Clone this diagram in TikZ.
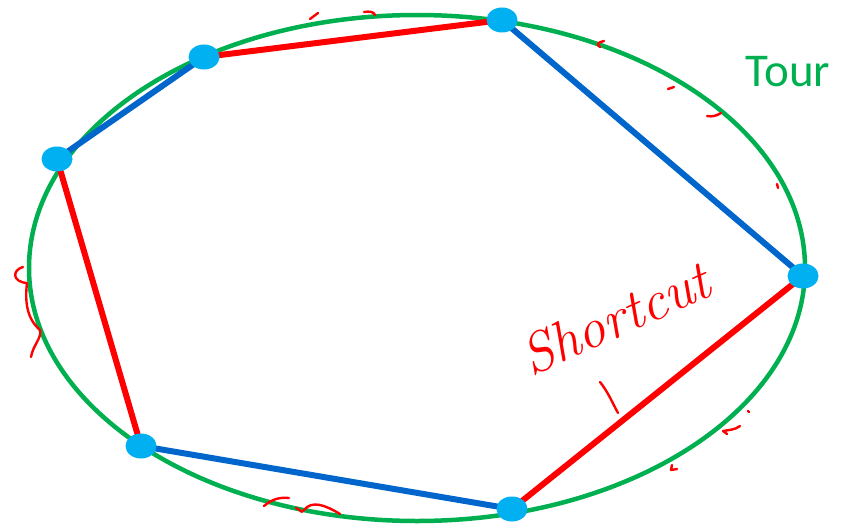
\documentclass[tikz,border=0pt]{standalone}
\usepackage{fontspec}
\newfontfamily\calib{Carlito}
\usetikzlibrary{shapes.geometric,backgrounds}
\definecolor{tourgreen}{RGB}{0,176,80}
\definecolor{edgeblue}{RGB}{0,102,204}
\definecolor{edgered}{RGB}{255,0,0}
\definecolor{vcyan}{RGB}{0,176,240}
\tikzset{
  vert/.style={ellipse, fill=vcyan, minimum width=31pt, minimum height=25pt, inner sep=0pt},
  blueedge/.style={draw=edgeblue, line width=6pt},
  rededge/.style={draw=edgered, line width=6pt},
  scrib/.style={draw=edgered, line width=2.4pt, line cap=round, line join=round},
}
\begin{document}
\begin{tikzpicture}[x=1pt,y=-1pt]
\useasboundingbox (0,0) rectangle (842,527);
\node[vert] (a) at (204,57) {};
\node[vert] (b) at (502,20) {};
\node[vert] (c) at (57,159) {};
\node[vert] (d) at (803,276) {};
\node[vert] (e) at (141,446) {};
\node[vert] (f) at (512,509) {};
\begin{scope}[on background layer]
\draw[tourgreen, line width=4.5pt] (417,268) ellipse [x radius=388pt, y radius=253pt];
\draw[rededge] (a.center) -- (b.center);
\draw[blueedge] (c.center) -- (a.center);
\draw[blueedge] (b.center) -- (d.center);
\draw[rededge] (c.center) -- (e.center);
\draw[blueedge] (e.center) -- (f.center);
\draw[rededge] (f.center) -- (d.center);
\end{scope}
\node[text=tourgreen, font=\calib\fontsize{47}{56}\selectfont, anchor=west] (tour) at (742,72) {Tour};
\node[text=edgered, font=\itshape\fontsize{56}{64}\selectfont, rotate=24, inner sep=0pt] (sc) at (615,318) {Shortcut};
% scribbles
\draw[scrib] (23,267) .. controls (12,270) and (12,282) .. (27,283) .. controls (25,300) and (26,318) .. (40,330) .. controls (42,338) and (33,345) .. (31,357);
\draw[scrib] (310,19) -- (318,13);
\draw[scrib] (364,12) .. controls (370,11) and (374,12) .. (375,15);
\draw[scrib] (604,41) .. controls (598,42) and (596,45) .. (600,47);
\draw[scrib] (668,89) -- (674,87);
\draw[scrib] (707,116) .. controls (712,117) and (716,116) .. (721,113);
\draw[scrib] (777,184) -- (778,188);
\draw[scrib] (748,411) -- (749,412);
\draw[scrib] (740,426) .. controls (735,430) and (728,430) .. (723,431) -- (727,434);
\draw[scrib] (672,465) -- (671,470) -- (677,469);
\draw[scrib] (264,506) .. controls (272,499) and (280,497) .. (289,498);
\draw[scrib] (296,508) .. controls (302,510) and (300,514) .. (304,510) .. controls (312,500) and (325,505) .. (340,514);
\draw[scrib] (600,382) .. controls (608,392) and (612,402) .. (618,413);
\end{tikzpicture}
\end{document}
